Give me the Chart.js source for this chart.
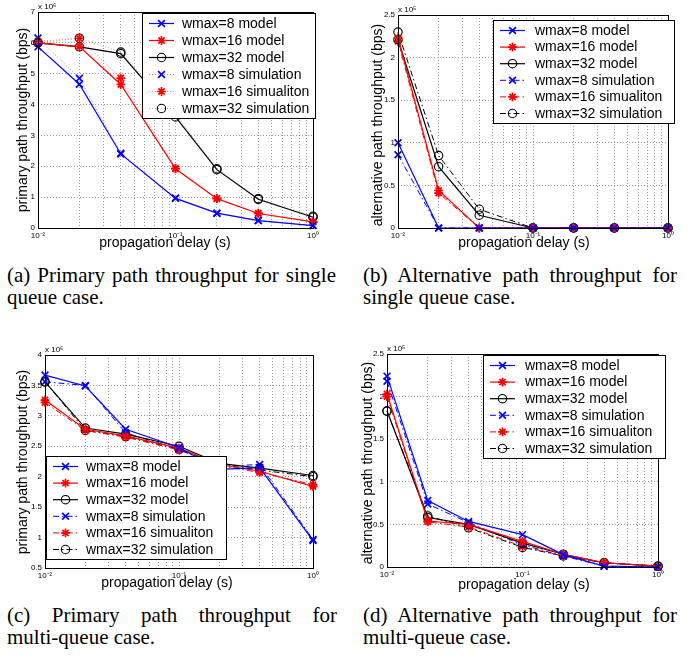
<!DOCTYPE html>
<html>
<head>
<meta charset="utf-8">
<script src="https://cdn.jsdelivr.net/npm/chart.js@4.4.1/dist/chart.umd.min.js"></script>
<style>
  html, body { margin:0; padding:0; background:#fff; }
  body { width:699px; height:658px; position:relative; overflow:hidden; }
  canvas { position:absolute; }
  .cap { position:absolute; font-family:'Liberation Serif','Times New Roman',serif; font-size:21px; line-height:22px; text-align:justify; color:#000; }
  .nw { white-space:nowrap; }
</style>
</head>
<body>
<div class="cap" style="left:7px;top:264px;width:329px;">(a) Primary path throughput for single queue case.</div>
<div class="cap" style="left:363px;top:264px;width:314px;">(b) Alternative path throughput for single queue case.</div>
<div class="cap" style="left:7px;top:604px;width:330px;">(c) Primary path throughput for <span class="nw">multi-queue</span> case.</div>
<div class="cap" style="left:363px;top:604px;width:314px;">(d) Alternative path throughput for <span class="nw">multi-queue</span> case.</div>
<script>
// ---------------- DATA ----------------
const delays = [0.01, 0.02, 0.04, 0.1, 0.2, 0.4, 1];            // propagation delay (s)
const seriesLabels = ['wmax=8 model', 'wmax=16 model', 'wmax=32 model',
                      'wmax=8 simulation', 'wmax=16 simualiton', 'wmax=32 simulation'];

// (a) primary path, single queue  (x 10^6 bps)
const a_w8_model  = [5.87, 4.66, 2.40, 0.96, 0.48, 0.24, 0.08];
const a_w16_model = [6.00, 5.88, 4.65, 1.92, 0.95, 0.47, 0.20];
const a_w32_model = [6.00, 5.87, 5.65, 3.60, 1.89, 0.93, 0.35];
const a_w8_sim    = [6.16, 4.85, 2.42, 0.97, 0.48, 0.24, 0.08];
const a_w16_sim   = [6.05, 6.15, 4.86, 1.93, 0.96, 0.48, 0.20];
const a_w32_sim   = [6.00, 6.15, 5.70, 3.70, 1.92, 0.95, 0.38];

// (b) alternative path, single queue (x 10^5 bps)
const b_w8_model  = [1.00, 0, 0, 0, 0, 0, 0];
const b_w16_model = [2.23, 0.44, 0, 0, 0, 0, 0];
const b_w32_model = [2.21, 0.72, 0.15, 0, 0, 0, 0];
const b_w8_sim    = [0.86, 0, 0, 0, 0, 0, 0];
const b_w16_sim   = [2.19, 0.41, 0, 0, 0, 0, 0];
const b_w32_sim   = [2.30, 0.85, 0.22, 0, 0, 0, 0];

// (c) primary path, multi-queue (x 10^5 bps)
const c_w8_model  = [3.67, 3.49, 2.78, 2.48, 2.12, 2.15, 0.95];
const c_w16_model = [3.26, 2.78, 2.67, 2.47, 2.20, 2.09, 1.84];
const c_w32_model = [3.56, 2.80, 2.70, 2.50, 2.22, 2.14, 2.02];
const c_w8_sim    = [3.56, 3.50, 2.72, 2.45, 2.17, 2.20, 0.97];
const c_w16_sim   = [3.22, 2.76, 2.65, 2.44, 2.18, 2.07, 1.87];
const c_w32_sim   = [3.56, 2.76, 2.66, 2.45, 2.20, 2.11, 2.00];

// (d) alternative path, multi-queue (x 10^5 bps)
const d_w8_model  = [2.24, 0.78, 0.535, 0.38, 0.145, 0.01, 0];
const d_w16_model = [2.03, 0.54, 0.50, 0.30, 0.15, 0.05, 0.01];
const d_w32_model = [1.83, 0.58, 0.50, 0.28, 0.15, 0.05, 0.01];
const d_w8_sim    = [2.18, 0.74, 0.52, 0.26, 0.13, 0.01, 0];
const d_w16_sim   = [2.00, 0.53, 0.47, 0.24, 0.13, 0.05, 0.01];
const d_w32_sim   = [1.83, 0.60, 0.46, 0.23, 0.13, 0.05, 0.01];

// tick labels
const xTickLabels = { '0.01': '10\u207B\u00B2', '0.1': '10\u207B\u00B9', '1': '10\u2070' };
const yTicksA = [0, 7, 1], yTicksB = [0, 2.5, 0.5], yTicksC = [0.5, 4, 0.5], yTicksD = [0, 2.5, 0.5];
const expA = 'x 10\u2076', expB = 'x 10\u2075', expC = 'x 10\u2075', expD = 'x 10\u2075';
const yTitlePrimary = 'primary path throughput (bps)';
const yTitleAlt = 'alternative path throughput (bps)';
const xTitle = 'propagation delay (s)';

// ---------------- STYLE / LAYOUT ----------------
const SANS = "'Liberation Sans', Arial, Helvetica, sans-serif";
const BLUE = '#0000ff', RED = '#ff0000', BLACK = '#000000';

const logTicks = [];
for (let e = -2; e <= -1; e++) for (let m = 1; m <= 9; m++) logTicks.push(Number((m * Math.pow(10, e)).toFixed(4)));
logTicks.push(1);

function markerCfg(style) {
  if (style === 'circle') return { r: 4.2, w: 1.1 };
  if (style === 'star') return { r: 4.4, w: 1.7 };
  return { r: 4.8, w: 1.7 };
}

function ds(label, vals, color, style, dash, lineW, lineAlpha) {
  const m = markerCfg(style);
  let lc = color;
  if (lineAlpha < 1) {
    const r = parseInt(color.substr(1,2),16), g = parseInt(color.substr(3,2),16), b = parseInt(color.substr(5,2),16);
    lc = `rgba(${r},${g},${b},${lineAlpha})`;
  }
  return {
    label, data: delays.map((x, i) => ({ x, y: vals[i] })),
    borderColor: lc, backgroundColor: 'transparent', borderWidth: lineW, borderDash: dash,
    pointStyle: style, pointRadius: m.r, pointBorderWidth: m.w, pointBorderColor: color,
    pointBackgroundColor: 'transparent', tension: 0, clip: false,
    _legendLine: lc
  };
}

function drawMarker(ctx, style, x, y, r, color, lw) {
  ctx.save();
  ctx.setLineDash([]);
  ctx.strokeStyle = color; ctx.lineWidth = lw;
  ctx.beginPath();
  const q = Math.SQRT1_2 * r;
  if (style === 'circle') {
    ctx.arc(x, y, r, 0, Math.PI * 2);
  } else {
    ctx.moveTo(x - q, y - q); ctx.lineTo(x + q, y + q);
    ctx.moveTo(x - q, y + q); ctx.lineTo(x + q, y - q);
    if (style === 'star') {
      ctx.moveTo(x, y - r); ctx.lineTo(x, y + r);
      ctx.moveTo(x - r, y); ctx.lineTo(x + r, y);
    }
  }
  ctx.stroke();
  ctx.restore();
}

function makePanel(spec) {
  const [cl, ct, cw, ch] = spec.canvas;
  const [pl, pt, pr, pb] = spec.plot;
  const cv = document.createElement('canvas');
  cv.width = cw; cv.height = ch;
  cv.style.left = cl + 'px'; cv.style.top = ct + 'px';
  cv.style.width = cw + 'px'; cv.style.height = ch + 'px';
  document.body.appendChild(cv);

  const decor = {
    id: 'decor',
    afterDraw(chart) {
      const ctx = chart.ctx;
      const a = chart.chartArea;
      ctx.save();
      // box
      ctx.setLineDash([]);
      ctx.strokeStyle = '#000'; ctx.lineWidth = 1;
      ctx.strokeRect(Math.round(a.left) + 0.5, Math.round(a.top) + 0.5, Math.round(a.right - a.left), Math.round(a.bottom - a.top));
      // exponent
      ctx.fillStyle = '#000';
      ctx.font = '8px ' + SANS;
      ctx.textAlign = 'left'; ctx.textBaseline = 'alphabetic';
      ctx.fillText(spec.exp, a.left, a.top - 3);
      // axis titles
      ctx.font = '14px ' + SANS;
      ctx.textAlign = 'center'; ctx.textBaseline = 'middle';
      ctx.fillText(xTitle, spec.xlabel[0] - cl, spec.xlabel[1] - ct);
      ctx.save();
      ctx.translate(spec.ylabel[0] - cl, spec.ylabel[1] - ct);
      ctx.rotate(-Math.PI / 2);
      ctx.fillText(spec.yTitle, 0, 0);
      ctx.restore();
      // legend
      const [lx0, ly0, lw, lh] = spec.legend;
      const lx = lx0 - cl, ly = ly0 - ct;
      ctx.fillStyle = '#fff';
      ctx.fillRect(lx, ly, lw, lh);
      ctx.strokeStyle = '#000'; ctx.lineWidth = 1;
      ctx.strokeRect(Math.round(lx) + 0.5, Math.round(ly) + 0.5, lw, lh);
      const n = chart.data.datasets.length;
      const step = (lh - 20) / (n - 1);
      chart.data.datasets.forEach((d, i) => {
        const y = ly + 10.5 + i * step;
        ctx.save();
        ctx.strokeStyle = d._legendLine; ctx.lineWidth = d.borderWidth;
        ctx.setLineDash(d.borderDash || []);
        ctx.beginPath(); ctx.moveTo(lx + 7, y); ctx.lineTo(lx + 32, y); ctx.stroke();
        ctx.restore();
        drawMarker(ctx, d.pointStyle, lx + 19.5, y, d.pointRadius, d.pointBorderColor, d.pointBorderWidth);
        ctx.fillStyle = '#000';
        ctx.font = '14px ' + SANS;
        ctx.textAlign = 'left'; ctx.textBaseline = 'middle';
        ctx.fillText(d.label, lx + spec.textOff, y + 0.5);
      });
      ctx.restore();
    }
  };

  const gridCol = 'rgba(0,0,0,0.38)';
  new Chart(cv, {
    type: 'line',
    data: { datasets: spec.datasets },
    options: {
      responsive: false, animation: false,
      layout: { padding: { left: 0, top: pt - ct, right: (cl + cw) - pr, bottom: 0 } },
      plugins: { legend: { display: false }, tooltip: { enabled: false } },
      scales: {
        x: {
          type: 'logarithmic', min: 0.01, max: 1,
          afterBuildTicks: (s) => { s.ticks = logTicks.map(v => ({ value: v, major: xTickLabels[String(v)] !== undefined })); },
          afterFit: (s) => { s.height = (ct + ch) - pb; },
          ticks: {
            autoSkip: false, maxRotation: 0, minRotation: 0, padding: 3, color: '#000',
            font: { family: SANS, size: 8 },
            callback: (v) => (xTickLabels[String(v)] !== undefined ? xTickLabels[String(v)] : '')
          },
          grid: { color: gridCol, lineWidth: 1, drawTicks: false },
          border: { display: false, dash: [1, 2] }
        },
        y: {
          type: 'linear', min: spec.yTicks[0], max: spec.yTicks[1],
          afterFit: (s) => { s.width = pl - cl; },
          ticks: {
            stepSize: spec.yTicks[2], padding: 3, color: '#000',
            font: { family: SANS, size: 8 },
            callback: (v) => String(Number(v.toFixed(2)))
          },
          grid: { color: gridCol, lineWidth: 1, drawTicks: false },
          border: { display: false, dash: [1, 2] }
        }
      }
    },
    plugins: [decor]
  });
}

const DOT = [1, 2], DASHDOT = [6, 3, 1.5, 3];

makePanel({
  canvas: [0, 0, 345, 255], plot: [38, 12, 313, 228],
  xlabel: [165, 243], ylabel: [23, 120], yTitle: yTitlePrimary, exp: expA, yTicks: yTicksA,
  legend: [142, 13, 173, 105], textOff: 40,
  datasets: [
    ds(seriesLabels[0], a_w8_model, BLUE, 'crossRot', [], 1.2, 1),
    ds(seriesLabels[1], a_w16_model, RED, 'star', [], 1.2, 1),
    ds(seriesLabels[2], a_w32_model, BLACK, 'circle', [], 1.2, 1),
    ds(seriesLabels[3], a_w8_sim, BLUE, 'crossRot', DOT, 1, 0.45),
    ds(seriesLabels[4], a_w16_sim, RED, 'star', DOT, 1, 0.45),
    ds(seriesLabels[5], a_w32_sim, BLACK, 'circle', DOT, 1, 0.35)
  ]
});

makePanel({
  canvas: [345, 0, 354, 255], plot: [398, 15, 668, 228],
  xlabel: [524, 243], ylabel: [378, 125], yTitle: yTitleAlt, exp: expB, yTicks: yTicksB,
  legend: [493, 20, 181, 103], textOff: 42,
  datasets: [
    ds(seriesLabels[0], b_w8_model, BLUE, 'crossRot', [], 1.2, 1),
    ds(seriesLabels[1], b_w16_model, RED, 'star', [], 1.2, 1),
    ds(seriesLabels[2], b_w32_model, BLACK, 'circle', [], 1.2, 1),
    ds(seriesLabels[3], b_w8_sim, BLUE, 'crossRot', DASHDOT, 1, 1),
    ds(seriesLabels[4], b_w16_sim, RED, 'star', DASHDOT, 1, 1),
    ds(seriesLabels[5], b_w32_sim, BLACK, 'circle', DASHDOT, 1, 1)
  ]
});

makePanel({
  canvas: [0, 335, 345, 260], plot: [45, 355, 313, 568],
  xlabel: [167, 583], ylabel: [23, 462], yTitle: yTitlePrimary, exp: expC, yTicks: yTicksC,
  legend: [46, 456, 180, 103], textOff: 40,
  datasets: [
    ds(seriesLabels[0], c_w8_model, BLUE, 'crossRot', [], 1.2, 1),
    ds(seriesLabels[1], c_w16_model, RED, 'star', [], 1.2, 1),
    ds(seriesLabels[2], c_w32_model, BLACK, 'circle', [], 1.2, 1),
    ds(seriesLabels[3], c_w8_sim, BLUE, 'crossRot', DASHDOT, 1, 1),
    ds(seriesLabels[4], c_w16_sim, RED, 'star', DASHDOT, 1, 1),
    ds(seriesLabels[5], c_w32_sim, BLACK, 'circle', DASHDOT, 1, 1)
  ]
});

makePanel({
  canvas: [345, 335, 354, 260], plot: [387, 354, 658, 567],
  xlabel: [524, 585], ylabel: [368, 463], yTitle: yTitleAlt, exp: expD, yTicks: yTicksD,
  legend: [483, 355, 182, 103], textOff: 42,
  datasets: [
    ds(seriesLabels[0], d_w8_model, BLUE, 'crossRot', [], 1.2, 1),
    ds(seriesLabels[1], d_w16_model, RED, 'star', [], 1.2, 1),
    ds(seriesLabels[2], d_w32_model, BLACK, 'circle', [], 1.2, 1),
    ds(seriesLabels[3], d_w8_sim, BLUE, 'crossRot', DASHDOT, 1, 1),
    ds(seriesLabels[4], d_w16_sim, RED, 'star', DASHDOT, 1, 1),
    ds(seriesLabels[5], d_w32_sim, BLACK, 'circle', DASHDOT, 1, 1)
  ]
});
</script>
</body>
</html>
